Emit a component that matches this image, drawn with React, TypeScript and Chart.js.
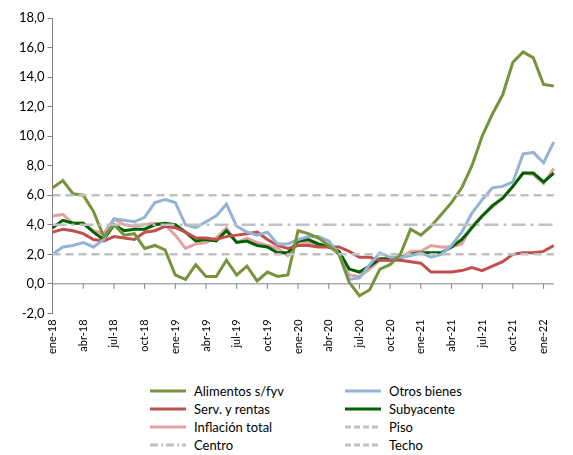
import { useEffect, useRef } from 'react'
import Chart from 'chart.js/auto'

const meses = ['ene', 'feb', 'mar', 'abr', 'may', 'jun', 'jul', 'ago', 'sep', 'oct', 'nov', 'dic']
const labels: string[] = []
for (let y = 18; y <= 22; y++) for (const m of meses) labels.push(m + '-' + y)
labels.length = 50

const alimentos = [6.5, 7.0, 6.1, 6.0, 4.9, 3.2, 4.0, 3.3, 3.4, 2.4, 2.6, 2.3, 0.6, 0.3, 1.3, 0.5, 0.5, 1.6, 0.6, 1.2, 0.2, 0.8, 0.5, 0.6, 3.6, 3.4, 3.1, 2.6, 2.0, 0.1, -0.8, -0.4, 1.0, 1.3, 2.0, 3.7, 3.3, 3.9, 4.7, 5.5, 6.5, 8.0, 10.0, 11.5, 12.8, 15.0, 15.7, 15.3, 13.5, 13.4]
const otros = [2.0, 2.5, 2.6, 2.8, 2.5, 3.0, 4.4, 4.3, 4.2, 4.5, 5.5, 5.7, 5.5, 4.0, 3.8, 4.2, 4.6, 5.4, 3.9, 3.5, 3.3, 3.5, 2.7, 2.7, 3.0, 3.2, 3.2, 2.9, 2.0, 0.3, 0.4, 1.3, 2.1, 1.8, 1.8, 1.9, 2.1, 1.8, 2.0, 2.6, 3.5, 4.8, 5.7, 6.5, 6.6, 6.9, 8.8, 8.9, 8.2, 9.6]
const servicios = [3.5, 3.7, 3.6, 3.4, 3.0, 2.9, 3.2, 3.1, 3.0, 3.5, 3.6, 3.9, 3.8, 3.5, 3.1, 3.1, 3.0, 3.2, 3.3, 3.4, 3.5, 3.0, 2.6, 2.4, 2.6, 2.6, 2.5, 2.5, 2.5, 2.2, 1.8, 1.8, 1.6, 1.6, 1.6, 1.5, 1.4, 0.8, 0.8, 0.8, 0.9, 1.1, 0.9, 1.2, 1.5, 2.0, 2.1, 2.1, 2.2, 2.6]
const subyacente = [3.8, 4.3, 4.1, 4.1, 3.5, 3.0, 4.0, 3.6, 3.7, 3.7, 4.0, 4.1, 4.0, 3.5, 2.9, 3.0, 2.9, 3.6, 2.8, 2.9, 2.6, 2.5, 2.1, 2.1, 2.9, 3.0, 2.7, 2.5, 2.2, 1.0, 0.8, 1.2, 1.7, 1.7, 1.8, 2.0, 2.1, 2.1, 2.1, 2.5, 3.0, 3.8, 4.6, 5.3, 5.8, 6.6, 7.5, 7.5, 6.9, 7.5]
const inflacion = [4.6, 4.7, 4.1, 4.1, 3.6, 3.4, 4.4, 4.0, 3.9, 4.0, 4.1, 4.0, 3.3, 2.4, 2.7, 2.8, 3.1, 3.8, 2.8, 3.1, 2.8, 2.6, 2.4, 1.9, 2.8, 2.8, 2.6, 2.5, 2.2, 0.6, 0.5, 1.0, 1.6, 1.6, 1.7, 2.2, 2.2, 2.6, 2.5, 2.5, 2.7, 3.9, 4.6, 5.2, 5.8, 6.6, 7.5, 7.4, 6.8, 7.8]
const piso = 2
const centro = 4
const techo = 6

const GREY = '#c0c0c0'
const FONT = 'Lato, "Open Sans", sans-serif'

const legendItems = [
  { label: 'Alimentos s/fyv', color: '#77933c', dash: '' },
  { label: 'Otros bienes', color: '#95b3d7', dash: '' },
  { label: 'Serv. y rentas', color: '#c0504d', dash: '' },
  { label: 'Subyacente', color: '#006100', dash: '' },
  { label: 'Inflación total', color: '#e6a0a0', dash: '' },
  { label: 'Piso', color: GREY, dash: 'dash' },
  { label: 'Centro', color: GREY, dash: 'dashdot' },
  { label: 'Techo', color: GREY, dash: 'dash' },
]

const zeroAxis = {
  id: 'zeroAxis',
  afterDatasetsDraw(chart: any) {
    const { ctx, scales } = chart
    const y0 = scales.y.getPixelForValue(0)
    ctx.save()
    ctx.strokeStyle = '#808080'
    ctx.lineWidth = 1
    ctx.beginPath()
    ctx.moveTo(scales.x.left, y0)
    ctx.lineTo(scales.x.right, y0)
    labels.forEach((_, i) => {
      if (i % 3 === 0) {
        const x = scales.x.getPixelForValue(i)
        ctx.moveTo(x, y0)
        ctx.lineTo(x, y0 + 5)
      }
    })
    ctx.stroke()
    ctx.restore()
  },
}

function LegendLine({ color, dash }: { color: string; dash: string }) {
  const da = dash === 'dash' ? '6 3' : dash === 'dashdot' ? '8 3 2 3' : undefined
  return (
    <svg width="36" height="6" style={{ marginRight: 8 }}>
      <line x1="0" y1="3" x2="36" y2="3" stroke={color} strokeWidth="3" strokeDasharray={da} />
    </svg>
  )
}

export default function App() {
  const chartRef = useRef<HTMLCanvasElement>(null)
  const chartInstance = useRef<Chart | null>(null)

  useEffect(() => {
    if (!chartRef.current) return
    const ctx = chartRef.current.getContext('2d')
    if (!ctx) return
    if (chartInstance.current) chartInstance.current.destroy()

    const line = (label: string, data: number[], color: string, dash: number[] = [], width = 3) => ({
      label, data, borderColor: color, backgroundColor: color, borderWidth: width,
      borderDash: dash, pointRadius: 0, tension: 0, fill: false,
    })

    chartInstance.current = new Chart(ctx, {
      type: 'line',
      data: {
        labels,
        datasets: [
          line('Piso', labels.map(() => piso), GREY, [8, 5], 2.5),
          line('Centro', labels.map(() => centro), GREY, [14, 5, 3, 5], 2.5),
          line('Techo', labels.map(() => techo), GREY, [8, 5], 2.5),
          line('Alimentos s/fyv', alimentos, '#77933c'),
          line('Otros bienes', otros, '#95b3d7'),
          line('Serv. y rentas', servicios, '#c0504d'),
          line('Subyacente', subyacente, '#006100'),
          line('Inflación total', inflacion, '#e6a0a0'),
        ],
      },
      options: {
        animation: false,
        responsive: false,
        layout: { padding: { top: 18, right: 0, left: 16 } },
        plugins: { legend: { display: false }, tooltip: { enabled: false } },
        scales: {
          x: {
            offset: false,
            grid: { display: false, drawTicks: false },
            border: { display: false },
            ticks: {
              autoSkip: false,
              maxRotation: 90,
              minRotation: 90,
              padding: 6,
              color: '#000',
              font: { family: FONT, size: 11 },
              callback: (_v: any, i: number) => (i % 3 === 0 ? labels[i] : ''),
            },
          },
          y: {
            min: -2,
            max: 18,
            ticks: {
              stepSize: 2,
              color: '#000',
              font: { family: FONT, size: 13 },
              callback: (v: any) => Number(v).toFixed(1).replace('.', ','),
            },
            grid: { color: 'transparent', tickColor: '#808080', tickLength: 5 },
            border: { display: true, color: '#808080' },
          },
        },
      },
      plugins: [zeroAxis],
    })

    return () => {
      if (chartInstance.current) chartInstance.current.destroy()
    }
  }, [])

  return (
    <div style={{ position: 'fixed', left: 0, top: 0, width: 573, height: 455, background: '#fff', fontFamily: FONT }}>
      <canvas ref={chartRef} width={573} height={360} style={{ display: 'block' }}></canvas>
      <div style={{ display: 'grid', gridTemplateColumns: '195px 200px', marginLeft: 150, marginTop: 22, rowGap: 1, fontSize: 13 }}>
        {legendItems.map((it) => (
          <div key={it.label} style={{ display: 'flex', alignItems: 'center', height: 17 }}>
            <LegendLine color={it.color} dash={it.dash} />
            <span>{it.label}</span>
          </div>
        ))}
      </div>
    </div>
  )
}
